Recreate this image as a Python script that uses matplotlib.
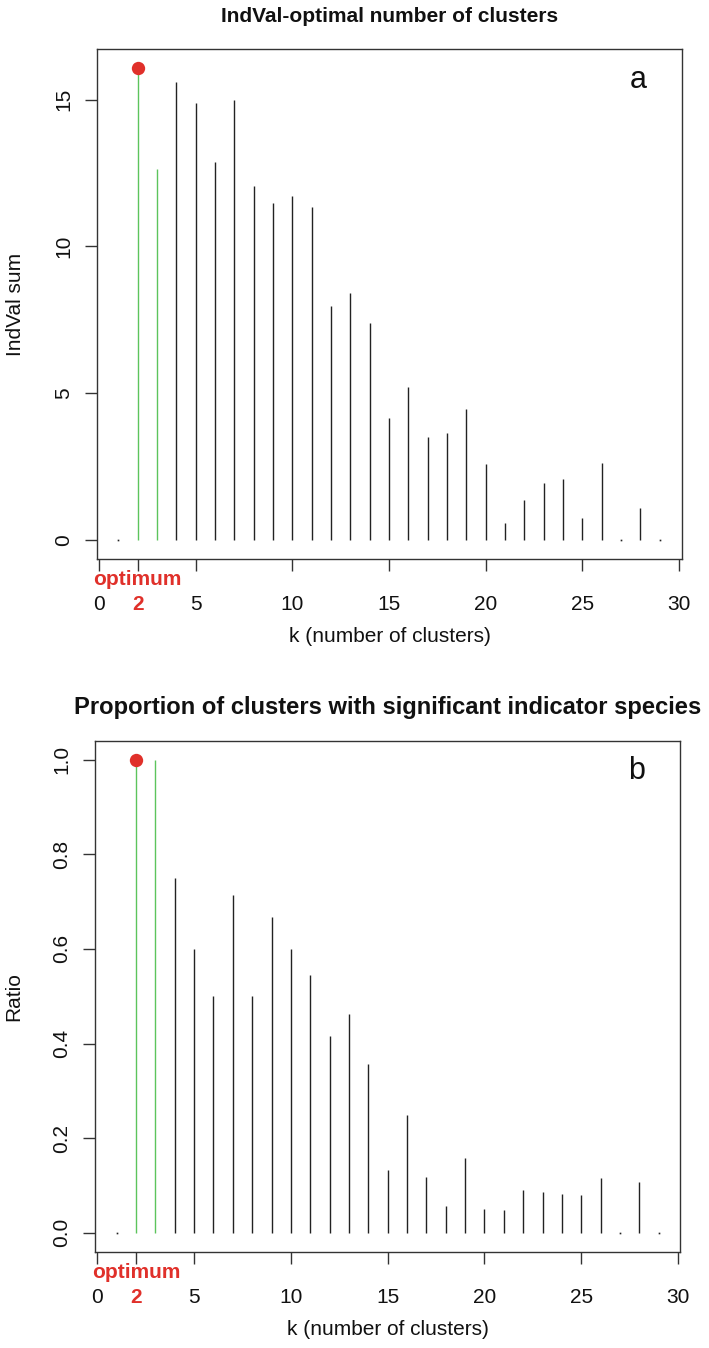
import numpy as np
import matplotlib
matplotlib.use('Agg')
import matplotlib.pyplot as plt

# k = number of clusters
k = list(range(1, 30))

indval_sum = [0.0, 16.08, 12.63, 15.61, 14.89, 12.88, 14.98, 12.07, 11.49, 11.73,
              11.35, 7.96, 8.41, 7.39, 4.16, 5.20, 3.50, 3.66, 4.46, 2.60,
              0.60, 1.37, 1.94, 2.09, 0.74, 2.62, 0.0, 1.10, 0.0]

ratio = [0.0, 1.0, 1.0, 0.75, 0.60, 0.50, 0.714, 0.50, 0.667, 0.60,
         0.545, 0.417, 0.462, 0.357, 0.133, 0.25, 0.118, 0.056, 0.158, 0.05,
         0.048, 0.091, 0.087, 0.083, 0.08, 0.115, 0.0, 0.107, 0.0]

green_k = [2, 3]
optimum = 2

xticks = [0, 2, 5, 10, 15, 20, 25, 30]
xticklabels = ['0', '2', '5', '10', '15', '20', '25', '30']

plt.rcParams['font.family'] = ['Liberation Sans', 'DejaVu Sans']

RED = '#e0302a'
GREEN = '#5cc45c'
DARK = '#222222'

fig = plt.figure(figsize=(7.09, 13.48), dpi=100)

panels = [
    dict(rect=[0.1368, 0.5853, 0.8251, 0.3783], y=indval_sum,
         title='IndVal-optimal number of clusters', title_size=15,
         ylabel='IndVal sum', letter='a', yticks=[0, 5, 10, 15], yfmt='{:g}',
         ylim=(-0.643, 16.72), xlim=(-0.1, 30.15)),
    dict(rect=[0.1340, 0.0714, 0.8251, 0.3791], y=ratio,
         title='Proportion of clusters with significant indicator species',
         title_size=17.1, ylabel='Ratio', letter='b',
         yticks=[0, 0.2, 0.4, 0.6, 0.8, 1.0], yfmt='{:.1f}',
         ylim=(-0.04, 1.04), xlim=(-0.12, 30.1)),
]

for p in panels:
    ax = fig.add_axes(p['rect'])
    y = np.array(p['y'])
    kk = np.array(k)
    colors = [GREEN if i in green_k else DARK for i in k]
    ax.vlines(kk, 0, y, colors=colors, linewidth=1.0)
    zero = y == 0
    ax.plot(kk[zero], y[zero], 's', color=DARK, markersize=1.2, markeredgewidth=0)
    ax.plot([optimum], [y[k.index(optimum)]], 'o', color=RED, markersize=9.6,
            markeredgewidth=0, zorder=5)

    ax.set_xlim(*p['xlim'])
    ax.set_ylim(*p['ylim'])

    for s in ax.spines.values():
        s.set_color('#333333')
        s.set_linewidth(1.0)

    ax.set_xticks(xticks)
    ax.set_xticklabels(xticklabels)
    ax.set_yticks(p['yticks'])
    ax.set_yticklabels([p['yfmt'].format(v) for v in p['yticks']],
                       rotation=90, va='center')
    ax.tick_params(axis='both', direction='out', length=8.6, width=1.0,
                   color='#333333', labelsize=15, labelcolor='#111111')
    ax.tick_params(axis='x', pad=17.5)
    ax.tick_params(axis='y', pad=8.5)

    idx = xticks.index(optimum)
    tick = ax.xaxis.get_major_ticks()[idx]
    tick.tick1line.set_color(RED)
    lab = ax.get_xticklabels()[idx]
    lab.set_color(RED)
    lab.set_fontweight('bold')

    ax.annotate('optimum', xy=(optimum, 0), xycoords=('data', 'axes fraction'),
                xytext=(0, -14.6), textcoords='offset points', ha='center',
                va='center', color=RED, fontweight='bold', fontsize=15)

    ax.set_title(p['title'], fontweight='bold', fontsize=p['title_size'],
                 pad=19.5, color='#111111')
    ax.set_xlabel('k (number of clusters)', fontsize=15, color='#111111')
    ax.xaxis.set_label_coords(0.5, -0.133)
    ax.set_ylabel(p['ylabel'], fontsize=15, color='#111111')
    ax.yaxis.set_label_coords(-0.123, 0.5)

    ax.text(0.925, 0.94, p['letter'], transform=ax.transAxes, fontsize=22,
            ha='center', va='center', color='#111111')

fig.savefig('out.png', dpi=100)
